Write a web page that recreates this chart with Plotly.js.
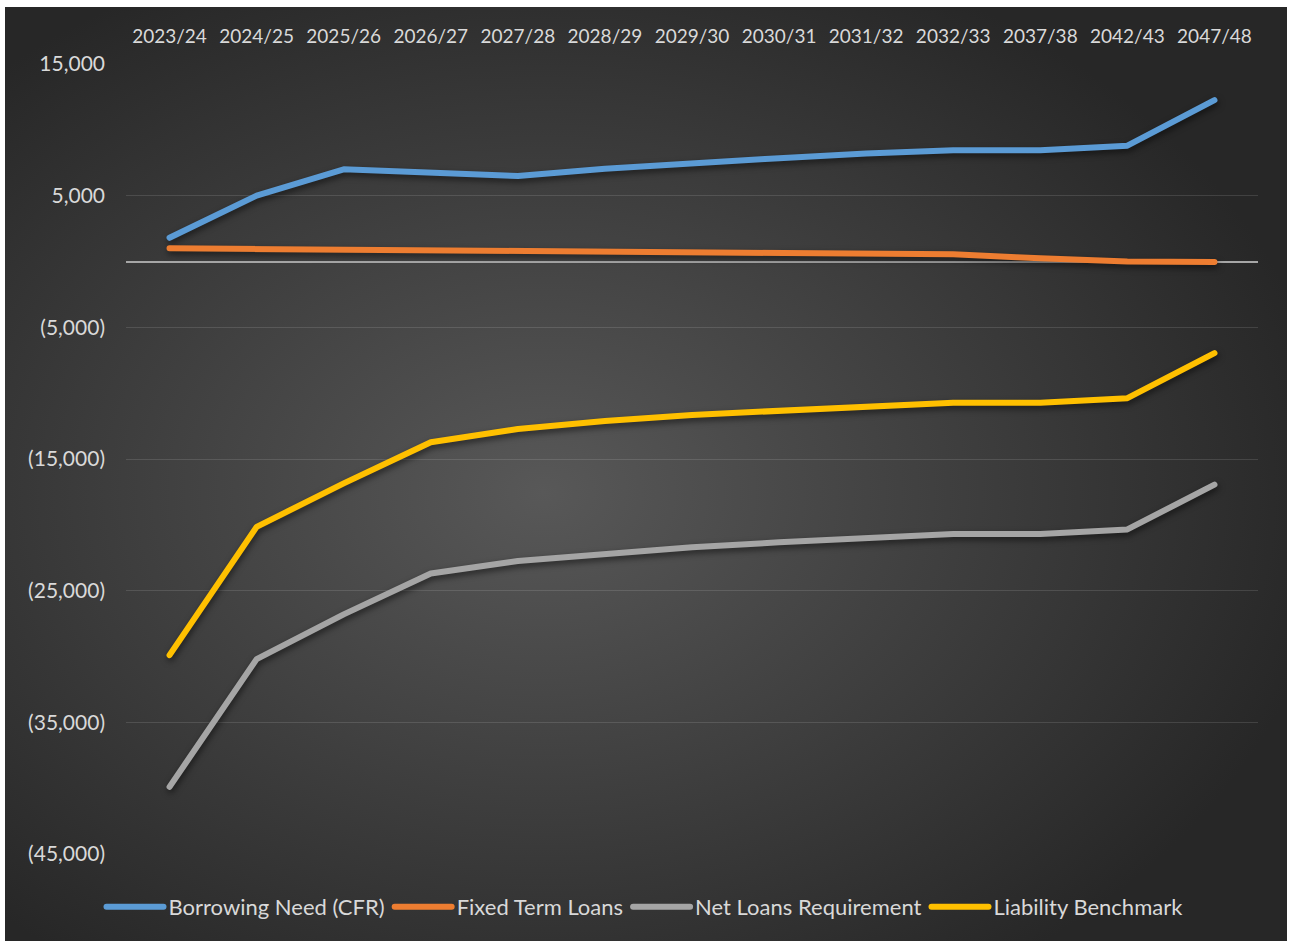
<!DOCTYPE html>
<html>
<head>
<meta charset="utf-8">
<script src="https://cdn.plot.ly/plotly-3.0.1.min.js"></script>
<style>
  html, body { margin: 0; padding: 0; background: #ffffff; width: 1290px; height: 941px; overflow: hidden; }
  #bg { position: absolute; left: 5px; top: 7px; width: 1282px; height: 934px;
        background: radial-gradient(ellipse 62% 62% at 42% 52%, #585858 0%, #3d3d3d 55%, #272727 100%); }
  #chart { position: absolute; left: 0; top: 0; width: 1290px; height: 941px; }
  .scatterlayer .js-line { stroke-linecap: round; stroke-linejoin: round; }
  .scatterlayer { filter: drop-shadow(1px 3px 3px rgba(0,0,0,0.55)); }
  .legend .js-line { stroke-linecap: round; }
</style>
</head>
<body>
<div id="bg"></div>
<div id="chart"></div>
<script>
const categories = ["2023/24","2024/25","2025/26","2026/27","2027/28","2028/29","2029/30","2030/31","2031/32","2032/33","2037/38","2042/43","2047/48"];
const borrowingNeed = [1800, 5000, 7000, 6800, 6500, 7050, 7500, 7850, 8200, 8450, 8450, 8800, 12250];
const fixedTermLoans = [1000, 940, 880, 830, 790, 730, 680, 630, 590, 550, 240, 0, -30];
const netLoansRequirement = [-39900, -30200, -26800, -23700, -22750, -22200, -21700, -21330, -21020, -20700, -20700, -20350, -16950];
const liabilityBenchmark = [-29900, -20150, -16850, -13730, -12720, -12120, -11650, -11330, -11030, -10720, -10720, -10380, -6960];
const yTickVals = [15000, 5000, -5000, -15000, -25000, -35000, -45000];
const yTickText = ["15,000", "5,000", "(5,000)", "(15,000)", "(25,000)", "(35,000)", "(45,000)"];

const seriesDefs = [
  {name: "Borrowing Need (CFR)", y: borrowingNeed, color: "#5B9BD5"},
  {name: "Fixed Term Loans", y: fixedTermLoans, color: "#ED7D31"},
  {name: "Net Loans Requirement", y: netLoansRequirement, color: "#A5A5A5"},
  {name: "Liability Benchmark", y: liabilityBenchmark, color: "#FFC000"}
];

const traces = seriesDefs.map(s => ({
  type: "scatter", mode: "lines", name: s.name,
  x: categories, y: s.y,
  line: {color: s.color, width: 6}
}));

const fam = "Lato, 'Open Sans', sans-serif";
const xfont = {family: fam, size: 19, color: "#d9d9d9"};
const yfont = {family: fam, size: 21, color: "#d9d9d9"};

const layout = {
  width: 1290, height: 941,
  paper_bgcolor: "rgba(0,0,0,0)",
  plot_bgcolor: "rgba(0,0,0,0)",
  margin: {l: 126, r: 32, t: 64, b: 87},
  font: xfont,
  showlegend: true,
  xaxis: {
    type: "category", side: "top", range: [-0.5, 12.5],
    showgrid: false, zeroline: false, showline: false, ticks: "",
    tickfont: xfont, ticklabelstandoff: 16, fixedrange: true
  },
  yaxis: {
    range: [-45000, 15000], tickvals: yTickVals, ticktext: yTickText,
    showgrid: true, gridcolor: "rgba(255,255,255,0.12)", gridwidth: 1,
    zeroline: true, zerolinecolor: "#a6a6a6", zerolinewidth: 2,
    showline: false, ticks: "", tickfont: yfont, ticklabelstandoff: 20, fixedrange: true
  },
  legend: {
    orientation: "h", xref: "container", yref: "container",
    x: 0.5, xanchor: "center", y: 34/941, yanchor: "middle",
    font: {family: fam, size: 22, color: "#d9d9d9"},
    bgcolor: "rgba(0,0,0,0)", itemwidth: 57, traceorder: "normal"
  }
};

Plotly.newPlot("chart", traces, layout, {displayModeBar: false, staticPlot: true});
</script>
</body>
</html>
